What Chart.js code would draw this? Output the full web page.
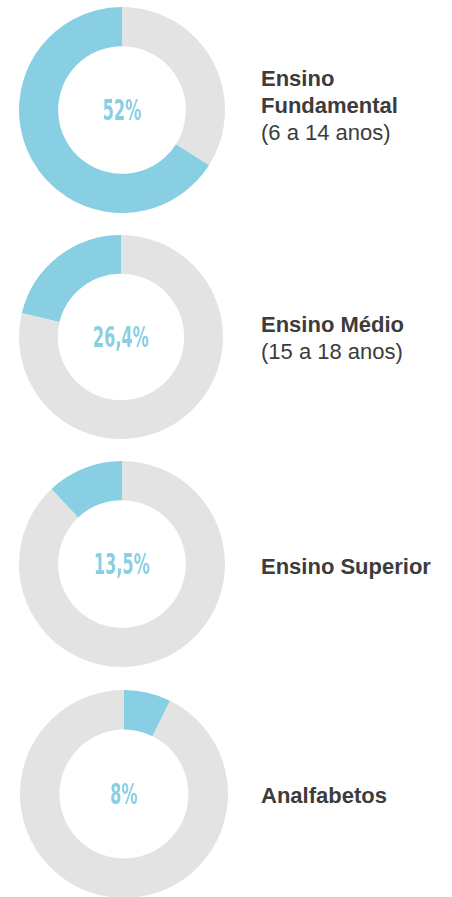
<!DOCTYPE html>
<html>
<head>
<meta charset="utf-8">
<script src="https://cdn.jsdelivr.net/npm/chart.js@4/dist/chart.umd.min.js"></script>
<style>
  body { margin: 0; background: #fff; width: 452px; height: 897px; overflow: hidden; position: relative; }
  .donut { position: absolute; }
  .label { position: absolute; left: 261px; font-family: "Liberation Sans", Arial, sans-serif; font-size: 22px; line-height: 27px; color: #3c3c3c; white-space: nowrap; }
  .label b { font-weight: bold; display: block; }
</style>
</head>
<body>
<canvas id="d0" class="donut" width="206" height="206" style="left:19px;top:7px"></canvas>
<canvas id="d1" class="donut" width="204" height="204" style="left:19px;top:235px"></canvas>
<canvas id="d2" class="donut" width="206" height="206" style="left:19px;top:461px"></canvas>
<canvas id="d3" class="donut" width="208" height="208" style="left:20px;top:690px"></canvas>

<div class="label" style="top:65px"><b>Ensino<br>Fundamental</b>(6 a 14 anos)</div>
<div class="label" style="top:311px"><b>Ensino Médio</b>(15 a 18 anos)</div>
<div class="label" style="top:553px"><b>Ensino Superior</b></div>
<div class="label" style="top:782px"><b>Analfabetos</b></div>

<script>
// text in the middle of each ring
let centerLabels = ['52%', '26,4%', '13,5%', '8%'];
// share of the ring painted blue, as drawn in the picture
let arcShare = [66, 21.2, 12, 7.3];
// last ring starts blue at the top and runs clockwise, others end blue at the top
let blueFirst = [false, false, false, true];

const BLUE = '#88cfe4';
const GREY = '#e3e3e3';

const centerText = {
    id: 'centerText',
    afterDraw(chart, args, opts) {
        const ctx = chart.ctx;
        const arc = chart.getDatasetMeta(0).data[0];
        ctx.save();
        ctx.fillStyle = BLUE;
        ctx.font = 'bold 28px "DejaVu Sans Condensed", "DejaVu Sans", sans-serif';
        ctx.textAlign = 'center';
        ctx.textBaseline = 'middle';
        ctx.translate(arc.x, arc.y + 3);
        ctx.scale(0.64, 1);
        ctx.fillText(opts.text, 0, 0);
        ctx.restore();
    }
};

for (let i = 0; i < arcShare.length; i++) {
    let rest = 100 - arcShare[i];
    let data = blueFirst[i] ? [arcShare[i], rest] : [rest, arcShare[i]];
    let colors = blueFirst[i] ? [BLUE, GREY] : [GREY, BLUE];
    new Chart(document.getElementById('d' + i), {
        type: 'doughnut',
        data: {
            labels: ['a', 'b'],
            datasets: [{
                data: data,
                backgroundColor: colors,
                borderWidth: 0
            }]
        },
        options: {
            responsive: false,
            animation: false,
            cutout: '62%',
            plugins: {
                legend: { display: false },
                tooltip: { enabled: false },
                centerText: { text: centerLabels[i] }
            }
        },
        plugins: [centerText]
    });
}
</script>
</body>
</html>
